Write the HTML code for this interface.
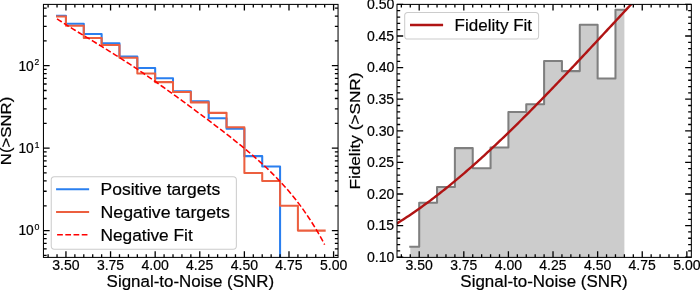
<!DOCTYPE html>
<html><head><meta charset="utf-8"><title>SNR plots</title>
<style>html,body{margin:0;padding:0;background:#fff;overflow:hidden;}svg{display:block;will-change:transform;}text{font-family:"Liberation Sans",sans-serif;fill:#000;stroke:#000;stroke-width:0.2px;}</style>
</head><body>
<svg width="700" height="290" viewBox="0 0 700 290">
<rect width="700" height="290" fill="#fff"/>
<clipPath id="cl"><rect x="43.45" y="4.4" width="294.6" height="252.99999999999997"/></clipPath>
<clipPath id="cr"><rect x="397.0" y="4.4" width="294.35" height="252.99999999999997"/></clipPath>
<g clip-path="url(#cl)" fill="none" stroke-width="2.05" stroke-linejoin="round">
<path d="M57.03,15.70 H65.95 V23.83 H83.79 V34.05 H101.64 V43.19 H119.48 V56.50 H137.32 V67.92 H155.17 V78.22 H173.01 V91.17 H190.85 V101.21 H208.69 V118.33 H226.54 V128.73 H244.38 V156.14 H262.22 V166.44 H280.07 V277.4" stroke="#2a7fef" stroke-linecap="square"/>
<path d="M57.03,16.51 H65.95 V25.65 H83.79 V37.96 H101.64 V45.05 H119.48 V57.71 H137.32 V73.51 H155.17 V82.13 H173.01 V91.91 H190.85 V102.38 H208.69 V112.85 H226.54 V127.20 H244.38 V172.97 H262.22 V180.96 H280.07 V205.78 H297.91 V230.60 H324.67" stroke="#ec5f3f" stroke-linecap="square"/>
<polyline points="57.03,18.80 59.28,20.29 61.53,21.76 63.78,23.21 66.02,24.65 68.27,26.06 70.52,27.47 72.77,28.86 75.02,30.25 77.27,31.63 79.52,33.00 81.77,34.36 84.02,35.73 86.27,37.09 88.52,38.45 90.77,39.81 93.01,41.17 95.26,42.54 97.51,43.91 99.76,45.28 102.01,46.65 104.26,48.04 106.51,49.42 108.76,50.82 111.01,52.22 113.26,53.63 115.51,55.05 117.75,56.47 120.00,57.90 122.25,59.34 124.50,60.79 126.75,62.25 129.00,63.72 131.25,65.20 133.50,66.68 135.75,68.18 138.00,69.68 140.25,71.19 142.49,72.71 144.74,74.24 146.99,75.78 149.24,77.32 151.49,78.88 153.74,80.44 155.99,82.01 158.24,83.58 160.49,85.17 162.74,86.76 164.99,88.35 167.24,89.95 169.48,91.56 171.73,93.18 173.98,94.80 176.23,96.42 178.48,98.06 180.73,99.69 182.98,101.33 185.23,102.98 187.48,104.63 189.73,106.28 191.98,107.94 194.22,109.61 196.47,111.27 198.72,112.95 200.97,114.62 203.22,116.31 205.47,117.99 207.72,119.69 209.97,121.38 212.22,123.09 214.47,124.79 216.72,126.51 218.96,128.23 221.21,129.96 223.46,131.70 225.71,133.44 227.96,135.20 230.21,136.97 232.46,138.74 234.71,140.53 236.96,142.33 239.21,144.15 241.46,145.98 243.71,147.83 245.95,149.69 248.20,151.57 250.45,153.48 252.70,155.41 254.95,157.36 257.20,159.34 259.45,161.34 261.70,163.38 263.95,165.45 266.20,167.55 268.45,169.69 270.69,171.87 272.94,174.09 275.19,176.36 277.44,178.67 279.69,181.04 281.94,183.45 284.19,185.93 286.44,188.46 288.69,191.06 290.94,193.72 293.19,196.46 295.43,199.27 297.68,202.16 299.93,205.14 302.18,208.20 304.43,211.35 306.68,214.60 308.93,217.95 311.18,221.41 313.43,224.98 315.68,228.66 317.93,232.47 320.18,236.41 322.42,240.48 324.67,244.69" stroke="#ff0000" stroke-width="1.56" stroke-dasharray="5.73 2.48"/>
</g>
<g clip-path="url(#cr)">
<path d="M410.28,246.80 H419.20 V202.80 H437.04 V187.00 H454.89 V148.10 H472.73 V168.20 H490.57 V147.40 H508.41 V111.90 H526.26 V104.30 H544.10 V61.00 H561.94 V71.10 H579.79 V24.80 H597.63 V78.40 H615.47 V9.70 H624.39 V257.40 H410.28 Z" fill="#cccccc" stroke="none"/>
<path d="M410.28,246.80 H419.20 V202.80 H437.04 V187.00 H454.89 V148.10 H472.73 V168.20 H490.57 V147.40 H508.41 V111.90 H526.26 V104.30 H544.10 V61.00 H561.94 V71.10 H579.79 V24.80 H597.63 V78.40 H615.47 V9.70 H624.39" fill="none" stroke="#7f7f7f" stroke-width="2.05" stroke-linejoin="round" stroke-linecap="square"/>
<polyline points="383.51,231.41 385.31,230.40 387.11,229.36 388.90,228.32 390.70,227.26 392.50,226.18 394.29,225.09 396.09,223.99 397.88,222.88 399.68,221.75 401.48,220.61 403.27,219.45 405.07,218.28 406.87,217.10 408.66,215.90 410.46,214.70 412.25,213.48 414.05,212.24 415.85,211.00 417.64,209.74 419.44,208.47 421.24,207.19 423.03,205.89 424.83,204.59 426.62,203.27 428.42,201.94 430.22,200.60 432.01,199.25 433.81,197.88 435.61,196.51 437.40,195.12 439.20,193.72 440.99,192.32 442.79,190.90 444.59,189.47 446.38,188.03 448.18,186.58 449.98,185.12 451.77,183.64 453.57,182.16 455.37,180.67 457.16,179.17 458.96,177.66 460.75,176.14 462.55,174.61 464.35,173.07 466.14,171.52 467.94,169.96 469.74,168.39 471.53,166.82 473.33,165.23 475.12,163.64 476.92,162.03 478.72,160.42 480.51,158.80 482.31,157.18 484.11,155.54 485.90,153.89 487.70,152.24 489.49,150.58 491.29,148.91 493.09,147.24 494.88,145.55 496.68,143.86 498.48,142.17 500.27,140.46 502.07,138.75 503.86,137.03 505.66,135.30 507.46,133.57 509.25,131.83 511.05,130.08 512.85,128.33 514.64,126.57 516.44,124.81 518.23,123.04 520.03,121.26 521.83,119.48 523.62,117.69 525.42,115.89 527.22,114.09 529.01,112.29 530.81,110.48 532.60,108.66 534.40,106.84 536.20,105.01 537.99,103.18 539.79,101.35 541.59,99.51 543.38,97.66 545.18,95.81 546.98,93.96 548.77,92.10 550.57,90.24 552.36,88.37 554.16,86.50 555.96,84.63 557.75,82.75 559.55,80.87 561.35,78.99 563.14,77.10 564.94,75.21 566.73,73.32 568.53,71.42 570.33,69.52 572.12,67.62 573.92,65.72 575.72,63.81 577.51,61.90 579.31,59.99 581.10,58.07 582.90,56.16 584.70,54.24 586.49,52.32 588.29,50.40 590.09,48.48 591.88,46.55 593.68,44.63 595.47,42.70 597.27,40.77 599.07,38.84 600.86,36.91 602.66,34.98 604.46,33.05 606.25,31.11 608.05,29.18 609.84,27.25 611.64,25.31 613.44,23.38 615.23,21.45 617.03,19.51 618.83,17.58 620.62,15.64 622.42,13.71 624.21,11.78 626.01,9.85 627.81,7.92 629.60,5.98 631.40,4.06 633.20,2.13 634.99,0.20 636.79,-1.73 638.59,-3.65 640.38,-5.57 642.18,-7.49 643.97,-9.41 645.77,-11.33 647.57,-13.25 649.36,-15.16 651.16,-17.07" fill="none" stroke="#b01414" stroke-width="2.4"/>
</g>
<path d="M48.11,257.4 v-3.2 M48.11,4.4 v3.2" stroke="#000" stroke-width="1.3"/>
<path d="M57.03,257.4 v-3.2 M57.03,4.4 v3.2" stroke="#000" stroke-width="1.3"/>
<path d="M65.95,257.4 v-6.2 M65.95,4.4 v6.2" stroke="#000" stroke-width="1.3"/>
<path d="M74.87,257.4 v-3.2 M74.87,4.4 v3.2" stroke="#000" stroke-width="1.3"/>
<path d="M83.79,257.4 v-3.2 M83.79,4.4 v3.2" stroke="#000" stroke-width="1.3"/>
<path d="M92.71,257.4 v-3.2 M92.71,4.4 v3.2" stroke="#000" stroke-width="1.3"/>
<path d="M101.64,257.4 v-3.2 M101.64,4.4 v3.2" stroke="#000" stroke-width="1.3"/>
<path d="M110.56,257.4 v-6.2 M110.56,4.4 v6.2" stroke="#000" stroke-width="1.3"/>
<path d="M119.48,257.4 v-3.2 M119.48,4.4 v3.2" stroke="#000" stroke-width="1.3"/>
<path d="M128.40,257.4 v-3.2 M128.40,4.4 v3.2" stroke="#000" stroke-width="1.3"/>
<path d="M137.32,257.4 v-3.2 M137.32,4.4 v3.2" stroke="#000" stroke-width="1.3"/>
<path d="M146.24,257.4 v-3.2 M146.24,4.4 v3.2" stroke="#000" stroke-width="1.3"/>
<path d="M155.17,257.4 v-6.2 M155.17,4.4 v6.2" stroke="#000" stroke-width="1.3"/>
<path d="M164.09,257.4 v-3.2 M164.09,4.4 v3.2" stroke="#000" stroke-width="1.3"/>
<path d="M173.01,257.4 v-3.2 M173.01,4.4 v3.2" stroke="#000" stroke-width="1.3"/>
<path d="M181.93,257.4 v-3.2 M181.93,4.4 v3.2" stroke="#000" stroke-width="1.3"/>
<path d="M190.85,257.4 v-3.2 M190.85,4.4 v3.2" stroke="#000" stroke-width="1.3"/>
<path d="M199.77,257.4 v-6.2 M199.77,4.4 v6.2" stroke="#000" stroke-width="1.3"/>
<path d="M208.69,257.4 v-3.2 M208.69,4.4 v3.2" stroke="#000" stroke-width="1.3"/>
<path d="M217.62,257.4 v-3.2 M217.62,4.4 v3.2" stroke="#000" stroke-width="1.3"/>
<path d="M226.54,257.4 v-3.2 M226.54,4.4 v3.2" stroke="#000" stroke-width="1.3"/>
<path d="M235.46,257.4 v-3.2 M235.46,4.4 v3.2" stroke="#000" stroke-width="1.3"/>
<path d="M244.38,257.4 v-6.2 M244.38,4.4 v6.2" stroke="#000" stroke-width="1.3"/>
<path d="M253.30,257.4 v-3.2 M253.30,4.4 v3.2" stroke="#000" stroke-width="1.3"/>
<path d="M262.22,257.4 v-3.2 M262.22,4.4 v3.2" stroke="#000" stroke-width="1.3"/>
<path d="M271.14,257.4 v-3.2 M271.14,4.4 v3.2" stroke="#000" stroke-width="1.3"/>
<path d="M280.07,257.4 v-3.2 M280.07,4.4 v3.2" stroke="#000" stroke-width="1.3"/>
<path d="M288.99,257.4 v-6.2 M288.99,4.4 v6.2" stroke="#000" stroke-width="1.3"/>
<path d="M297.91,257.4 v-3.2 M297.91,4.4 v3.2" stroke="#000" stroke-width="1.3"/>
<path d="M306.83,257.4 v-3.2 M306.83,4.4 v3.2" stroke="#000" stroke-width="1.3"/>
<path d="M315.75,257.4 v-3.2 M315.75,4.4 v3.2" stroke="#000" stroke-width="1.3"/>
<path d="M324.67,257.4 v-3.2 M324.67,4.4 v3.2" stroke="#000" stroke-width="1.3"/>
<path d="M333.59,257.4 v-6.2 M333.59,4.4 v6.2" stroke="#000" stroke-width="1.3"/>
<path d="M401.36,257.4 v-3.2 M401.36,4.4 v3.2" stroke="#000" stroke-width="1.3"/>
<path d="M410.28,257.4 v-3.2 M410.28,4.4 v3.2" stroke="#000" stroke-width="1.3"/>
<path d="M419.20,257.4 v-6.2 M419.20,4.4 v6.2" stroke="#000" stroke-width="1.3"/>
<path d="M428.12,257.4 v-3.2 M428.12,4.4 v3.2" stroke="#000" stroke-width="1.3"/>
<path d="M437.04,257.4 v-3.2 M437.04,4.4 v3.2" stroke="#000" stroke-width="1.3"/>
<path d="M445.96,257.4 v-3.2 M445.96,4.4 v3.2" stroke="#000" stroke-width="1.3"/>
<path d="M454.89,257.4 v-3.2 M454.89,4.4 v3.2" stroke="#000" stroke-width="1.3"/>
<path d="M463.81,257.4 v-6.2 M463.81,4.4 v6.2" stroke="#000" stroke-width="1.3"/>
<path d="M472.73,257.4 v-3.2 M472.73,4.4 v3.2" stroke="#000" stroke-width="1.3"/>
<path d="M481.65,257.4 v-3.2 M481.65,4.4 v3.2" stroke="#000" stroke-width="1.3"/>
<path d="M490.57,257.4 v-3.2 M490.57,4.4 v3.2" stroke="#000" stroke-width="1.3"/>
<path d="M499.49,257.4 v-3.2 M499.49,4.4 v3.2" stroke="#000" stroke-width="1.3"/>
<path d="M508.41,257.4 v-6.2 M508.41,4.4 v6.2" stroke="#000" stroke-width="1.3"/>
<path d="M517.34,257.4 v-3.2 M517.34,4.4 v3.2" stroke="#000" stroke-width="1.3"/>
<path d="M526.26,257.4 v-3.2 M526.26,4.4 v3.2" stroke="#000" stroke-width="1.3"/>
<path d="M535.18,257.4 v-3.2 M535.18,4.4 v3.2" stroke="#000" stroke-width="1.3"/>
<path d="M544.10,257.4 v-3.2 M544.10,4.4 v3.2" stroke="#000" stroke-width="1.3"/>
<path d="M553.02,257.4 v-6.2 M553.02,4.4 v6.2" stroke="#000" stroke-width="1.3"/>
<path d="M561.94,257.4 v-3.2 M561.94,4.4 v3.2" stroke="#000" stroke-width="1.3"/>
<path d="M570.87,257.4 v-3.2 M570.87,4.4 v3.2" stroke="#000" stroke-width="1.3"/>
<path d="M579.79,257.4 v-3.2 M579.79,4.4 v3.2" stroke="#000" stroke-width="1.3"/>
<path d="M588.71,257.4 v-3.2 M588.71,4.4 v3.2" stroke="#000" stroke-width="1.3"/>
<path d="M597.63,257.4 v-6.2 M597.63,4.4 v6.2" stroke="#000" stroke-width="1.3"/>
<path d="M606.55,257.4 v-3.2 M606.55,4.4 v3.2" stroke="#000" stroke-width="1.3"/>
<path d="M615.47,257.4 v-3.2 M615.47,4.4 v3.2" stroke="#000" stroke-width="1.3"/>
<path d="M624.39,257.4 v-3.2 M624.39,4.4 v3.2" stroke="#000" stroke-width="1.3"/>
<path d="M633.32,257.4 v-3.2 M633.32,4.4 v3.2" stroke="#000" stroke-width="1.3"/>
<path d="M642.24,257.4 v-6.2 M642.24,4.4 v6.2" stroke="#000" stroke-width="1.3"/>
<path d="M651.16,257.4 v-3.2 M651.16,4.4 v3.2" stroke="#000" stroke-width="1.3"/>
<path d="M660.08,257.4 v-3.2 M660.08,4.4 v3.2" stroke="#000" stroke-width="1.3"/>
<path d="M669.00,257.4 v-3.2 M669.00,4.4 v3.2" stroke="#000" stroke-width="1.3"/>
<path d="M677.92,257.4 v-3.2 M677.92,4.4 v3.2" stroke="#000" stroke-width="1.3"/>
<path d="M686.85,257.4 v-6.2 M686.85,4.4 v6.2" stroke="#000" stroke-width="1.3"/>
<path d="M43.45,255.42 h3.2 M338.05,255.42 h-3.2" stroke="#000" stroke-width="1.3"/>
<path d="M43.45,248.89 h3.2 M338.05,248.89 h-3.2" stroke="#000" stroke-width="1.3"/>
<path d="M43.45,243.37 h3.2 M338.05,243.37 h-3.2" stroke="#000" stroke-width="1.3"/>
<path d="M43.45,238.59 h3.2 M338.05,238.59 h-3.2" stroke="#000" stroke-width="1.3"/>
<path d="M43.45,234.37 h3.2 M338.05,234.37 h-3.2" stroke="#000" stroke-width="1.3"/>
<path d="M43.45,230.60 h6.2 M338.05,230.60 h-6.2" stroke="#000" stroke-width="1.3"/>
<path d="M43.45,205.78 h3.2 M338.05,205.78 h-3.2" stroke="#000" stroke-width="1.3"/>
<path d="M43.45,191.26 h3.2 M338.05,191.26 h-3.2" stroke="#000" stroke-width="1.3"/>
<path d="M43.45,180.96 h3.2 M338.05,180.96 h-3.2" stroke="#000" stroke-width="1.3"/>
<path d="M43.45,172.97 h3.2 M338.05,172.97 h-3.2" stroke="#000" stroke-width="1.3"/>
<path d="M43.45,166.44 h3.2 M338.05,166.44 h-3.2" stroke="#000" stroke-width="1.3"/>
<path d="M43.45,160.92 h3.2 M338.05,160.92 h-3.2" stroke="#000" stroke-width="1.3"/>
<path d="M43.45,156.14 h3.2 M338.05,156.14 h-3.2" stroke="#000" stroke-width="1.3"/>
<path d="M43.45,151.92 h3.2 M338.05,151.92 h-3.2" stroke="#000" stroke-width="1.3"/>
<path d="M43.45,148.15 h6.2 M338.05,148.15 h-6.2" stroke="#000" stroke-width="1.3"/>
<path d="M43.45,123.33 h3.2 M338.05,123.33 h-3.2" stroke="#000" stroke-width="1.3"/>
<path d="M43.45,108.81 h3.2 M338.05,108.81 h-3.2" stroke="#000" stroke-width="1.3"/>
<path d="M43.45,98.51 h3.2 M338.05,98.51 h-3.2" stroke="#000" stroke-width="1.3"/>
<path d="M43.45,90.52 h3.2 M338.05,90.52 h-3.2" stroke="#000" stroke-width="1.3"/>
<path d="M43.45,83.99 h3.2 M338.05,83.99 h-3.2" stroke="#000" stroke-width="1.3"/>
<path d="M43.45,78.47 h3.2 M338.05,78.47 h-3.2" stroke="#000" stroke-width="1.3"/>
<path d="M43.45,73.69 h3.2 M338.05,73.69 h-3.2" stroke="#000" stroke-width="1.3"/>
<path d="M43.45,69.47 h3.2 M338.05,69.47 h-3.2" stroke="#000" stroke-width="1.3"/>
<path d="M43.45,65.70 h6.2 M338.05,65.70 h-6.2" stroke="#000" stroke-width="1.3"/>
<path d="M43.45,40.88 h3.2 M338.05,40.88 h-3.2" stroke="#000" stroke-width="1.3"/>
<path d="M43.45,26.36 h3.2 M338.05,26.36 h-3.2" stroke="#000" stroke-width="1.3"/>
<path d="M43.45,16.06 h3.2 M338.05,16.06 h-3.2" stroke="#000" stroke-width="1.3"/>
<path d="M43.45,8.07 h3.2 M338.05,8.07 h-3.2" stroke="#000" stroke-width="1.3"/>
<path d="M397.0,257.20 h6.2 M691.35,257.20 h-6.2" stroke="#000" stroke-width="1.3"/>
<path d="M397.0,250.88 h3.2 M691.35,250.88 h-3.2" stroke="#000" stroke-width="1.3"/>
<path d="M397.0,244.56 h3.2 M691.35,244.56 h-3.2" stroke="#000" stroke-width="1.3"/>
<path d="M397.0,238.24 h3.2 M691.35,238.24 h-3.2" stroke="#000" stroke-width="1.3"/>
<path d="M397.0,231.92 h3.2 M691.35,231.92 h-3.2" stroke="#000" stroke-width="1.3"/>
<path d="M397.0,225.60 h6.2 M691.35,225.60 h-6.2" stroke="#000" stroke-width="1.3"/>
<path d="M397.0,219.28 h3.2 M691.35,219.28 h-3.2" stroke="#000" stroke-width="1.3"/>
<path d="M397.0,212.96 h3.2 M691.35,212.96 h-3.2" stroke="#000" stroke-width="1.3"/>
<path d="M397.0,206.64 h3.2 M691.35,206.64 h-3.2" stroke="#000" stroke-width="1.3"/>
<path d="M397.0,200.32 h3.2 M691.35,200.32 h-3.2" stroke="#000" stroke-width="1.3"/>
<path d="M397.0,194.00 h6.2 M691.35,194.00 h-6.2" stroke="#000" stroke-width="1.3"/>
<path d="M397.0,187.68 h3.2 M691.35,187.68 h-3.2" stroke="#000" stroke-width="1.3"/>
<path d="M397.0,181.36 h3.2 M691.35,181.36 h-3.2" stroke="#000" stroke-width="1.3"/>
<path d="M397.0,175.04 h3.2 M691.35,175.04 h-3.2" stroke="#000" stroke-width="1.3"/>
<path d="M397.0,168.72 h3.2 M691.35,168.72 h-3.2" stroke="#000" stroke-width="1.3"/>
<path d="M397.0,162.40 h6.2 M691.35,162.40 h-6.2" stroke="#000" stroke-width="1.3"/>
<path d="M397.0,156.08 h3.2 M691.35,156.08 h-3.2" stroke="#000" stroke-width="1.3"/>
<path d="M397.0,149.76 h3.2 M691.35,149.76 h-3.2" stroke="#000" stroke-width="1.3"/>
<path d="M397.0,143.44 h3.2 M691.35,143.44 h-3.2" stroke="#000" stroke-width="1.3"/>
<path d="M397.0,137.12 h3.2 M691.35,137.12 h-3.2" stroke="#000" stroke-width="1.3"/>
<path d="M397.0,130.80 h6.2 M691.35,130.80 h-6.2" stroke="#000" stroke-width="1.3"/>
<path d="M397.0,124.48 h3.2 M691.35,124.48 h-3.2" stroke="#000" stroke-width="1.3"/>
<path d="M397.0,118.16 h3.2 M691.35,118.16 h-3.2" stroke="#000" stroke-width="1.3"/>
<path d="M397.0,111.84 h3.2 M691.35,111.84 h-3.2" stroke="#000" stroke-width="1.3"/>
<path d="M397.0,105.52 h3.2 M691.35,105.52 h-3.2" stroke="#000" stroke-width="1.3"/>
<path d="M397.0,99.20 h6.2 M691.35,99.20 h-6.2" stroke="#000" stroke-width="1.3"/>
<path d="M397.0,92.88 h3.2 M691.35,92.88 h-3.2" stroke="#000" stroke-width="1.3"/>
<path d="M397.0,86.56 h3.2 M691.35,86.56 h-3.2" stroke="#000" stroke-width="1.3"/>
<path d="M397.0,80.24 h3.2 M691.35,80.24 h-3.2" stroke="#000" stroke-width="1.3"/>
<path d="M397.0,73.92 h3.2 M691.35,73.92 h-3.2" stroke="#000" stroke-width="1.3"/>
<path d="M397.0,67.60 h6.2 M691.35,67.60 h-6.2" stroke="#000" stroke-width="1.3"/>
<path d="M397.0,61.28 h3.2 M691.35,61.28 h-3.2" stroke="#000" stroke-width="1.3"/>
<path d="M397.0,54.96 h3.2 M691.35,54.96 h-3.2" stroke="#000" stroke-width="1.3"/>
<path d="M397.0,48.64 h3.2 M691.35,48.64 h-3.2" stroke="#000" stroke-width="1.3"/>
<path d="M397.0,42.32 h3.2 M691.35,42.32 h-3.2" stroke="#000" stroke-width="1.3"/>
<path d="M397.0,36.00 h6.2 M691.35,36.00 h-6.2" stroke="#000" stroke-width="1.3"/>
<path d="M397.0,29.68 h3.2 M691.35,29.68 h-3.2" stroke="#000" stroke-width="1.3"/>
<path d="M397.0,23.36 h3.2 M691.35,23.36 h-3.2" stroke="#000" stroke-width="1.3"/>
<path d="M397.0,17.04 h3.2 M691.35,17.04 h-3.2" stroke="#000" stroke-width="1.3"/>
<path d="M397.0,10.72 h3.2 M691.35,10.72 h-3.2" stroke="#000" stroke-width="1.3"/>
<path d="M397.0,4.40 h6.2 M691.35,4.40 h-6.2" stroke="#000" stroke-width="1.3"/>
<rect x="43.45" y="4.4" width="294.6" height="252.99999999999997" fill="none" stroke="#000" stroke-width="1.03"/>
<rect x="397.0" y="4.4" width="294.35" height="252.99999999999997" fill="none" stroke="#000" stroke-width="1.03"/>
<rect x="51.25" y="176.7" width="185.1" height="72.5" rx="3.1" fill="#fff" fill-opacity="0.8" stroke="#cccccc" stroke-width="1.03"/>
<path d="M57.1,189.2 H88.1" stroke="#2a7fef" stroke-width="2.05" stroke-linecap="square" fill="none"/>
<text x="100.50" y="195.00" font-size="16.66" textLength="119.69" lengthAdjust="spacingAndGlyphs">Positive targets</text>
<path d="M57.1,212.0 H88.1" stroke="#ec5f3f" stroke-width="2.05" stroke-linecap="square" fill="none"/>
<text x="100.48" y="217.80" font-size="16.66" textLength="129.49" lengthAdjust="spacingAndGlyphs">Negative targets</text>
<path d="M57.1,234.7 H88.1" stroke="#ff0000" stroke-width="1.56" stroke-dasharray="5.73 2.48" fill="none"/>
<text x="100.52" y="240.50" font-size="16.66" textLength="92.23" lengthAdjust="spacingAndGlyphs">Negative Fit</text>
<rect x="404.7" y="12.5" width="133.9" height="26.6" rx="3.1" fill="#fff" fill-opacity="0.8" stroke="#cccccc" stroke-width="1.03"/>
<path d="M411.2,25.0 H441.9" stroke="#b01414" stroke-width="2.4" stroke-linecap="square" fill="none"/>
<text x="454.54" y="30.80" font-size="16.66" textLength="77.54" lengthAdjust="spacingAndGlyphs">Fidelity Fit</text>
<text x="52.31" y="269.60" font-size="14.20" textLength="27.34" lengthAdjust="spacingAndGlyphs">3.50</text>
<text x="405.56" y="269.60" font-size="14.20" textLength="27.34" lengthAdjust="spacingAndGlyphs">3.50</text>
<text x="96.92" y="269.60" font-size="14.20" textLength="27.15" lengthAdjust="spacingAndGlyphs">3.75</text>
<text x="450.17" y="269.60" font-size="14.20" textLength="27.15" lengthAdjust="spacingAndGlyphs">3.75</text>
<text x="141.49" y="269.60" font-size="14.20" textLength="27.38" lengthAdjust="spacingAndGlyphs">4.00</text>
<text x="494.74" y="269.60" font-size="14.20" textLength="27.38" lengthAdjust="spacingAndGlyphs">4.00</text>
<text x="186.10" y="269.60" font-size="14.20" textLength="27.19" lengthAdjust="spacingAndGlyphs">4.25</text>
<text x="539.35" y="269.60" font-size="14.20" textLength="27.19" lengthAdjust="spacingAndGlyphs">4.25</text>
<text x="230.70" y="269.60" font-size="14.20" textLength="27.38" lengthAdjust="spacingAndGlyphs">4.50</text>
<text x="583.95" y="269.60" font-size="14.20" textLength="27.38" lengthAdjust="spacingAndGlyphs">4.50</text>
<text x="275.31" y="269.60" font-size="14.20" textLength="27.19" lengthAdjust="spacingAndGlyphs">4.75</text>
<text x="628.56" y="269.60" font-size="14.20" textLength="27.19" lengthAdjust="spacingAndGlyphs">4.75</text>
<text x="319.95" y="269.60" font-size="14.20" textLength="27.34" lengthAdjust="spacingAndGlyphs">5.00</text>
<text x="673.20" y="269.60" font-size="14.20" textLength="27.34" lengthAdjust="spacingAndGlyphs">5.00</text>
<text x="18.45" y="70.50" font-size="14.20" textLength="15.35" lengthAdjust="spacingAndGlyphs">10</text>
<text x="34.61" y="65.40" font-size="9.03" textLength="4.72" lengthAdjust="spacingAndGlyphs">2</text>
<text x="18.45" y="152.95" font-size="14.20" textLength="15.35" lengthAdjust="spacingAndGlyphs">10</text>
<text x="34.69" y="147.85" font-size="9.03" textLength="4.67" lengthAdjust="spacingAndGlyphs">1</text>
<text x="18.45" y="235.40" font-size="14.20" textLength="15.35" lengthAdjust="spacingAndGlyphs">10</text>
<text x="34.59" y="230.30" font-size="9.03" textLength="4.92" lengthAdjust="spacingAndGlyphs">0</text>
<text x="366.90" y="261.95" font-size="14.20" textLength="27.47" lengthAdjust="spacingAndGlyphs">0.10</text>
<text x="366.90" y="230.35" font-size="14.20" textLength="27.29" lengthAdjust="spacingAndGlyphs">0.15</text>
<text x="366.90" y="198.75" font-size="14.20" textLength="27.47" lengthAdjust="spacingAndGlyphs">0.20</text>
<text x="366.90" y="167.15" font-size="14.20" textLength="27.29" lengthAdjust="spacingAndGlyphs">0.25</text>
<text x="366.90" y="135.55" font-size="14.20" textLength="27.47" lengthAdjust="spacingAndGlyphs">0.30</text>
<text x="366.90" y="103.95" font-size="14.20" textLength="27.29" lengthAdjust="spacingAndGlyphs">0.35</text>
<text x="366.90" y="72.35" font-size="14.20" textLength="27.47" lengthAdjust="spacingAndGlyphs">0.40</text>
<text x="366.90" y="40.75" font-size="14.20" textLength="27.29" lengthAdjust="spacingAndGlyphs">0.45</text>
<text x="366.90" y="9.15" font-size="14.20" textLength="27.47" lengthAdjust="spacingAndGlyphs">0.50</text>
<text x="106.63" y="286.90" font-size="16.66" textLength="167.41" lengthAdjust="spacingAndGlyphs">Signal-to-Noise (SNR)</text>
<text x="460.35" y="286.90" font-size="16.66" textLength="167.41" lengthAdjust="spacingAndGlyphs">Signal-to-Noise (SNR)</text>
<text x="-22.83" y="131.00" font-size="15.50" textLength="68.44" lengthAdjust="spacingAndGlyphs" transform="rotate(-90 11.40 131.00)">N(&gt;SNR)</text>
<text x="300.90" y="131.00" font-size="15.50" textLength="117.14" lengthAdjust="spacingAndGlyphs" transform="rotate(-90 359.50 131.00)">Fidelity (&gt;SNR)</text>
</svg>
</body></html>
